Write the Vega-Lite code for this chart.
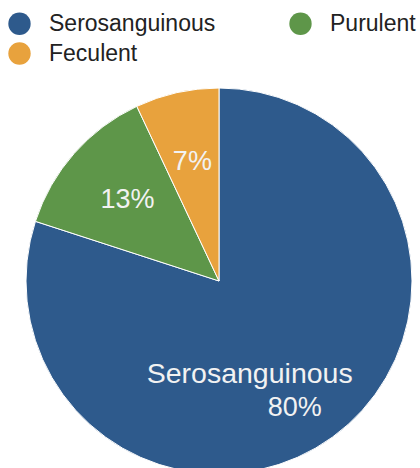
{
  "$schema": "https://vega.github.io/schema/vega-lite/v6.json",
  "autosize": "none",
  "width": 386,
  "height": 374,
  "padding": {"left": 26, "top": 94, "right": 8, "bottom": 0},
  "background": "white",
  "config": {"view": {"stroke": null}, "font": "Liberation Sans"},
  "data": {"values": [
    {"type": "Serosanguinous", "value": 80, "ord": 1, "pct_small": "", "name_label": "Serosanguinous", "pct_big": "80%"},
    {"type": "Purulent", "value": 13, "ord": 2, "pct_small": "13%", "name_label": "", "pct_big": ""},
    {"type": "Feculent", "value": 7, "ord": 3, "pct_small": "7%", "name_label": "", "pct_big": ""}
  ]},
  "encoding": {
    "theta": {"field": "value", "type": "quantitative", "stack": true},
    "order": {"field": "ord", "type": "quantitative"}
  },
  "layer": [
    {
      "mark": {"type": "arc", "outerRadius": 193, "stroke": "#ffffff", "strokeWidth": 1},
      "encoding": {
        "color": {
          "field": "type", "type": "nominal",
          "scale": {"domain": ["Serosanguinous", "Purulent", "Feculent"], "range": ["#2E5A8C", "#5E9649", "#E8A23D"]},
          "legend": {
            "title": null, "orient": "none", "legendX": -18, "legendY": -82,
            "columns": 2, "direction": "horizontal",
            "symbolType": "circle", "symbolSize": 500, "symbolStrokeWidth": 0,
            "labelFontSize": 23, "labelColor": "#222222", "labelOffset": 18,
            "columnPadding": 73, "rowPadding": 6, "labelLimit": 300
          }
        }
      }
    },
    {
      "mark": {"type": "text", "radius": 122, "fontSize": 27, "color": "#F2F2F2"},
      "encoding": {"text": {"field": "pct_small"}}
    },
    {
      "mark": {"type": "text", "radius": 122, "fontSize": 28.5, "color": "#F2F2F2", "dx": -41, "dy": -6},
      "encoding": {"text": {"field": "name_label"}}
    },
    {
      "mark": {"type": "text", "radius": 122, "fontSize": 27, "color": "#F2F2F2", "dx": 4, "dy": 28},
      "encoding": {"text": {"field": "pct_big"}}
    }
  ]
}
